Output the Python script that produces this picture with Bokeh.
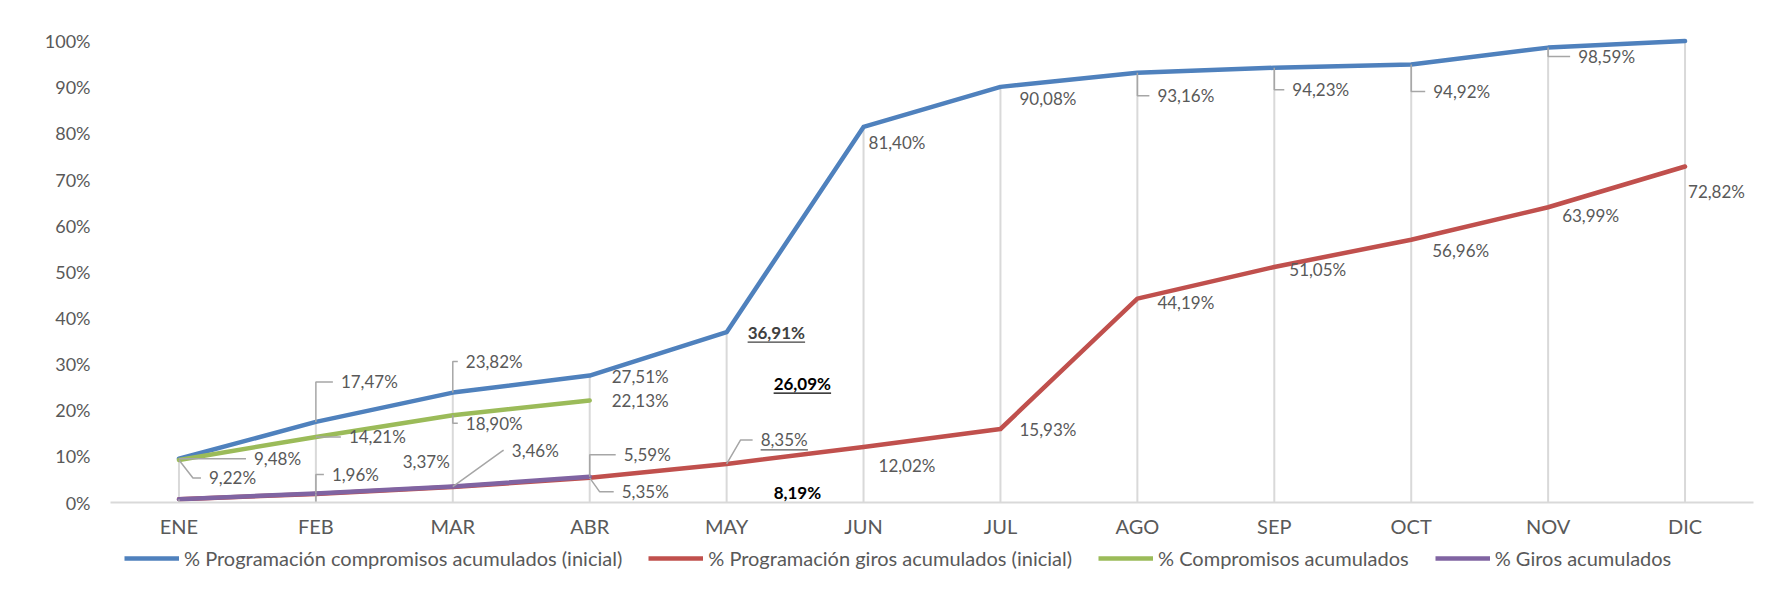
from bokeh.plotting import figure
from bokeh.layouts import column
from bokeh.models import Range1d, FixedTicker, Legend, LegendItem, ColumnDataSource
from bokeh.core.properties import value
from bokeh.embed import file_html
from bokeh.resources import INLINE

# ---------------- data ----------------
months = ["ENE", "FEB", "MAR", "ABR", "MAY", "JUN", "JUL", "AGO", "SEP", "OCT", "NOV", "DIC"]
y_ticks = [0, 10, 20, 30, 40, 50, 60, 70, 80, 90, 100]
prog_comp = [9.48, 17.47, 23.82, 27.51, 36.91, 81.40, 90.08, 93.16, 94.23, 94.92, 98.59, 100.0]
prog_giros = [0.70, 1.85, 3.37, 5.35, 8.35, 12.02, 15.93, 44.19, 51.05, 56.96, 63.99, 72.82]
comp = [9.22, 14.21, 18.90, 22.13]
giros = [0.70, 1.96, 3.46, 5.59]
may_notes = [26.09, 8.19]
names = ["% Programación compromisos acumulados (inicial)",
         "% Programación giros acumulados (inicial)",
         "% Compromisos acumulados",
         "% Giros acumulados"]
colors = ["#4F81BD", "#C0504D", "#9BBB59", "#8064A2"]

# ---------------- label placement styles (dx, dy in px, leader corner dx or None) ----
blue_lab = [(75, 0, 0), (25, -40, 0), (13, -31, 0), (22, 1, None), (21, 0, None),
            (5, 16, None), (19, 12, None), (20, 23, 0), (18, 22, 0), (22, 27, 0),
            (30, 9, 0), None]
red_lab = [(18, 24, 0), (18, 20, 0), "R", (32, 14, 10), (34, -24, 14), (15, 18, None),
           (19, 0, None), (20, 4, None), (15, 3, None), (21, 11, None), (14, 8, None),
           (3, 25, None)]
green_lab = [(30, 18, 14), (33, 0, 0), (13, 8, 0), (22, 0, None)]
purple_lab = [None, (16, -19, 0), (59, -36, 50), (34, -22, 0)]

FONT = "Lato"
LBL = 17
W = 1757
BL, BR, BT, BB = 110, 4, 36, 43
FW, FH = 1643, 466
H1 = BT + FH + BB
H2 = 593 - H1
sx = FW / 12.0
sy = FH / 101.0

p = figure(width=W, height=H1, min_border_left=BL, min_border_right=BR,
           min_border_top=BT, min_border_bottom=BB,
           x_range=Range1d(-0.5, 11.5), y_range=Range1d(0, 101),
           output_backend="svg", toolbar_location=None)
p.outline_line_color = None
p.xgrid.grid_line_color = None
p.ygrid.grid_line_color = None
p.background_fill_color = "white"
p.border_fill_color = "white"

# axes
p.xaxis.ticker = FixedTicker(ticks=list(range(12)))
p.xaxis.major_label_overrides = {i: m for i, m in enumerate(months)}
p.xaxis.axis_line_color = "#D9D9D9"
p.xaxis.axis_line_width = 2
p.xaxis.major_tick_line_color = None
p.xaxis.major_tick_out = 0
p.xaxis.major_tick_in = 0
p.xaxis.minor_tick_line_color = None
p.xaxis.minor_tick_out = 0
p.xaxis.major_label_standoff = 11
p.xaxis.major_label_text_font = FONT
p.xaxis.major_label_text_font_size = "20px"
p.xaxis.major_label_text_color = "#595959"

p.yaxis.ticker = FixedTicker(ticks=y_ticks)
p.yaxis.major_label_overrides = {t: f"{t}%" for t in y_ticks}
p.yaxis.axis_line_color = None
p.yaxis.major_tick_line_color = None
p.yaxis.major_tick_out = 0
p.yaxis.major_tick_in = 0
p.yaxis.minor_tick_line_color = None
p.yaxis.minor_tick_out = 0
p.yaxis.major_label_standoff = 20
p.yaxis.major_label_text_font = FONT
p.yaxis.major_label_text_font_size = "18px"
p.yaxis.major_label_text_color = "#595959"

# drop lines
xs_all = list(range(12))
tops = [max(vals) for vals in zip(prog_comp, prog_giros)]
p.segment(x0=xs_all, y0=[0] * 12, x1=xs_all, y1=tops, line_color="#D9D9D9", line_width=2)

# series lines
series = [prog_comp, prog_giros, comp, giros]
for vals, col in zip(series, colors):
    p.line(list(range(len(vals))), vals, line_color=col, line_width=4.5, line_join="round",
           line_cap="round")

def fmt(v):
    return f"{v:.2f}".replace(".", ",") + "%"

def text_w(s, size, bold=False):
    w = 0
    for ch in s:
        if ch.isdigit():
            w += 0.58
        elif ch == ",":
            w += 0.24
        elif ch == "%":
            w += 0.82 if bold else 0.80
        else:
            w += 0.5
    return w * size

lead_xs, lead_ys = [], []
norm = dict(x=[], y=[], text=[], xo=[], yo=[])
right = dict(x=[], y=[], text=[], xo=[], yo=[])
under = []  # (x, y, dx, dy, text, bold, color)
special_bold = dict(x=[], y=[], text=[], xo=[], yo=[])

for vals, labs in zip(series, [blue_lab, red_lab, green_lab, purple_lab]):
    for i, (v, lab) in enumerate(zip(vals, labs)):
        if lab is None:
            continue
        if lab == "R":
            right["x"].append(i); right["y"].append(v); right["text"].append(fmt(v))
            right["xo"].append(-3); right["yo"].append(-25)
            continue
        dx, dy, corner = lab
        if vals is prog_comp and i == 4:
            special_bold["x"].append(i); special_bold["y"].append(v)
            special_bold["text"].append(fmt(v)); special_bold["xo"].append(dx)
            special_bold["yo"].append(dy)
            under.append((i, v, dx, dy, fmt(v), True, "#404040"))
        else:
            norm["x"].append(i); norm["y"].append(v); norm["text"].append(fmt(v))
            norm["xo"].append(dx); norm["yo"].append(dy)
            if vals is prog_giros and i == 4:
                under.append((i, v, dx, dy, fmt(v), False, "#595959"))
        if corner is not None:
            lead_xs.append([i, i + corner / sx, i + (dx - 8) / sx])
            lead_ys.append([v, v - dy / sy, v - dy / sy])

p.multi_line(lead_xs, lead_ys, line_color="#A6A6A6", line_width=1.5)

common = dict(text_font=value(FONT), text_font_size=f"{LBL}px", text_baseline="middle")
p.text(x="x", y="y", text="text", x_offset="xo", y_offset="yo", source=ColumnDataSource(norm),
       text_color="#595959", text_align="left", **common)
p.text(x="x", y="y", text="text", x_offset="xo", y_offset="yo", source=ColumnDataSource(right),
       text_color="#595959", text_align="right", **common)
p.text(x="x", y="y", text="text", x_offset="xo", y_offset="yo",
       source=ColumnDataSource(special_bold), text_color="#404040", text_align="left",
       text_font_style="bold", **common)

# May annotations (bold, black, underlined)
note_off = [(47, 1), (47, 28)]
note_src = dict(x=[4, 4], y=may_notes, text=[fmt(v) for v in may_notes],
                xo=[o[0] for o in note_off], yo=[o[1] for o in note_off])
p.text(x="x", y="y", text="text", x_offset="xo", y_offset="yo", source=ColumnDataSource(note_src),
       text_color="#000000", text_align="left", text_font_style="bold", **common)
for v, (dx, dy) in zip(may_notes, note_off):
    under.append((4, v, dx, dy, fmt(v), True, "#000000"))

ux0, ux1, uy, ucol = [], [], [], []
for (i, v, dx, dy, t, b, c) in under:
    w = text_w(t, LBL, b)
    ux0.append(i + dx / sx)
    ux1.append(i + (dx + w) / sx)
    uy.append(v - (dy + 10) / sy)
    ucol.append(c)
p.segment(x0=ux0, y0=uy, x1=ux1, y1=uy, line_color=ucol, line_width=1.3)

# ---------------- legend strip (separate figure below) ----------------
q = figure(width=W, height=H2, min_border_left=0, min_border_right=0, min_border_top=0,
           min_border_bottom=0, x_axis_type=None, y_axis_type=None,
           x_range=Range1d(0, 1), y_range=Range1d(0, 1),
           output_backend="svg", toolbar_location=None)
q.outline_line_color = None
q.xgrid.grid_line_color = None
q.ygrid.grid_line_color = None
q.background_fill_color = "white"
q.border_fill_color = "white"
leg_rs = [q.line([0, 1], [-10, -10], line_color=c, line_width=4.5) for c in colors]
items = [LegendItem(label=n, renderers=[r]) for n, r in zip(names, leg_rs)]
legend = Legend(items=items, orientation="horizontal", location=(14, 23),
                label_text_font=FONT, label_text_font_size="20px", label_text_color="#595959",
                glyph_width=55, glyph_height=18, label_standoff=5, spacing=26,
                padding=0, margin=0, border_line_color=None, background_fill_alpha=0,
                label_height=18)
q.add_layout(legend, "center")

layout = column(p, q, spacing=0)
open("out.html", "w").write(file_html(layout, INLINE))
